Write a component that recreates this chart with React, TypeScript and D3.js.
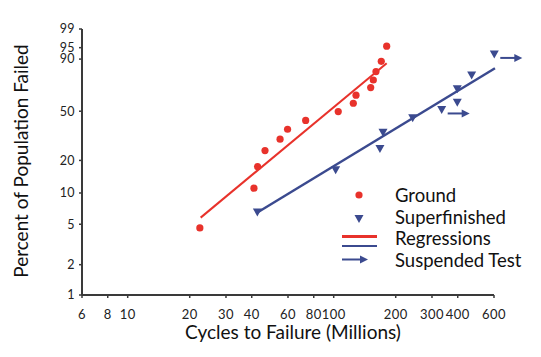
import React from "react";
import * as d3 from "d3";

const groundCycles = [22.4, 41.0, 42.7, 46.4, 54.9, 59.7, 73.1, 105.2, 124.5, 128.3, 151.2, 155.7, 160.4, 170.2, 180.8];
const groundPct = [4.6, 11.1, 17.6, 24.4, 30.5, 36.7, 42.9, 49.7, 56.5, 63.3, 69.7, 75.9, 82.2, 88.8, 95.5];

const superCycles = [42.6, 102.2, 167.7, 173.5, 241.8, 334.3, 398, 398, 467.4, 601.9];
const superPct = [6.5, 16.3, 25.2, 34.5, 44.5, 51.0, 68.3, 57.0, 79.4, 92.3];
const superSuspended = [false, false, false, false, false, true, false, false, false, true];

const groundFitCycles = [22.6, 180.8];
const groundFitPct = [5.8, 87.7];
const superFitCycles = [42.6, 606.6];
const superFitPct = [6.5, 84.5];

const xTicks = [6, 8, 10, 20, 30, 40, 60, 80, 100, 200, 300, 400, 600];
const yTicks = [1, 2, 5, 10, 20, 50, 90, 95, 99];

const legendLabels = ["Ground", "Superfinished", "Regressions", "Suspended Test"];

const RED = "#e8322b";
const BLUE = "#3b4a8f";
const AXIS = "#3a3a3a";
const FONT = "Lato, 'Open Sans', sans-serif";

const weib = (p: number) => Math.log(-Math.log(1 - p / 100));

export default function App() {
  const x = d3.scaleLog().domain([6, 600]).range([82, 494]);
  const yl = d3.scaleLinear().domain([weib(1), weib(99)]).range([295, 29]);
  const y = (p: number) => yl(weib(p));
  const line = d3.line<[number, number]>().x((d) => x(d[0])).y((d) => y(d[1]));

  const tri = (cx: number, cy: number, w = 9, h = 8) =>
    `M${cx - w / 2},${cy - h / 2}L${cx + w / 2},${cy - h / 2}L${cx},${cy + h / 2}Z`;

  const arrow = (x0: number, x1: number, yy: number, key: string) => (
    <g key={key}>
      <line x1={x0} x2={x1 - 5} y1={yy} y2={yy} stroke={BLUE} strokeWidth={2} />
      <path d={`M${x1 - 8},${yy - 4}L${x1},${yy}L${x1 - 8},${yy + 4}Z`} fill={BLUE} />
    </g>
  );

  const lx = 359;
  const textX = 395;

  return (
    <svg width={541} height={357} style={{ position: "absolute", left: 0, top: 0, background: "#fff" }} fontFamily={FONT}>
      {/* axes */}
      <line x1={82} x2={82} y1={y(99)} y2={y(1)} stroke={AXIS} strokeWidth={2} />
      <line x1={82} x2={x(600)} y1={y(1)} y2={y(1)} stroke={AXIS} strokeWidth={2} />
      {yTicks.map((t) => (
        <g key={"yt" + t}>
          <line x1={79} x2={82} y1={y(t)} y2={y(t)} stroke={AXIS} strokeWidth={1.5} />
          <text x={75} y={y(t)} dy="0.35em" textAnchor="end" fontSize={12.5} letterSpacing={0.4} fill="#222">{t}</text>
        </g>
      ))}
      {xTicks.map((t) => (
        <g key={"xt" + t}>
          <line x1={x(t)} x2={x(t)} y1={295} y2={298} stroke={AXIS} strokeWidth={1.5} />
          <text x={x(t)} y={314} dy="0.35em" textAnchor="middle" fontSize={13} letterSpacing={0.4} fill="#222">{t}</text>
        </g>
      ))}
      <text x={293} y={339} textAnchor="middle" fontSize={19} fill="#111">Cycles to Failure (Millions)</text>
      <text transform={`translate(28,161) rotate(-90)`} textAnchor="middle" fontSize={19} fill="#111">Percent of Population Failed</text>

      {/* regressions */}
      <path d={line(groundFitCycles.map((c, i) => [c, groundFitPct[i]]) as [number, number][]) || ""} stroke={RED} strokeWidth={2} fill="none" />
      <path d={line(superFitCycles.map((c, i) => [c, superFitPct[i]]) as [number, number][]) || ""} stroke={BLUE} strokeWidth={2.5} fill="none" />

      {/* ground points */}
      {groundCycles.map((c, i) => (
        <circle key={"g" + i} cx={x(c)} cy={y(groundPct[i])} r={3.6} fill={RED} />
      ))}
      {/* superfinished points */}
      {superCycles.map((c, i) => (
        <g key={"s" + i}>
          <path d={tri(x(c), y(superPct[i]))} fill={BLUE} />
          {superSuspended[i] ? arrow(x(c) + 6, x(c) + 28, y(superPct[i]) + 3.5, "a" + i) : null}
        </g>
      ))}

      {/* legend */}
      <circle cx={lx} cy={195} r={3.6} fill={RED} />
      <path d={tri(lx, 219)} fill={BLUE} />
      <line x1={342} x2={377} y1={236.5} y2={236.5} stroke={RED} strokeWidth={3} />
      <line x1={342} x2={377} y1={246} y2={246} stroke={BLUE} strokeWidth={2} />
      {arrow(342, 368, 259.5, "la")}
      {legendLabels.map((l, i) => (
        <text key={l} x={textX} y={202 + i * 21.5} fontSize={18.5} fill="#111">{l}</text>
      ))}
    </svg>
  );
}
